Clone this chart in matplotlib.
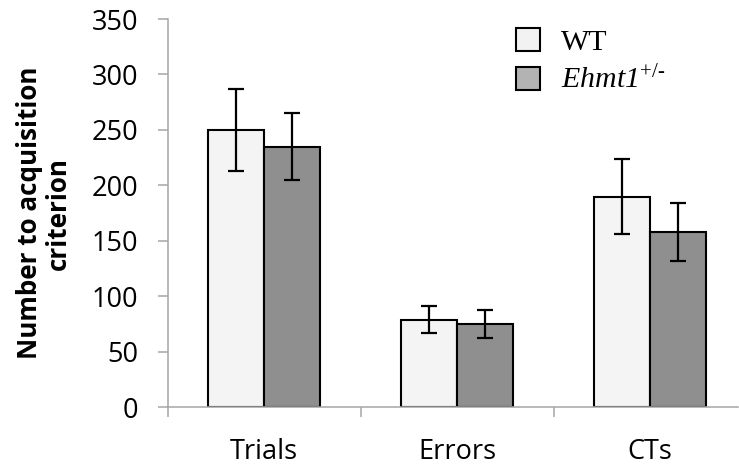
import matplotlib
matplotlib.use("Agg")
import matplotlib.pyplot as plt
from matplotlib.patches import Patch
import numpy as np

categories = ["Trials", "Errors", "CTs"]
wt_values = [250, 79, 190]
wt_errors = [37, 12, 34]
ehmt_values = [235, 75, 158]
ehmt_errors = [30, 12.5, 26]
y_ticks = [0, 50, 100, 150, 200, 250, 300, 350]

plt.rcParams['mathtext.fontset'] = 'custom'
plt.rcParams['mathtext.rm'] = 'Liberation Serif'
plt.rcParams['mathtext.it'] = 'Liberation Serif:italic'

W, H = 739, 465
fig = plt.figure(figsize=(W / 100, H / 100), dpi=100)
left_px, right_px, top_px, bot_px = 167.7, 738.0, 19.0, 407.3
ax_w = right_px - left_px
ax = fig.add_axes([left_px / W, 1 - bot_px / H, ax_w / W, (bot_px - top_px) / H])

x = np.arange(len(categories))
bw = 0.289
axis_col = '#a6a6a6'
ekw = dict(elinewidth=1.6, capthick=1.6, ecolor='black')
ax.bar(x - bw / 2, wt_values, bw, color='#f4f4f4', edgecolor='black', linewidth=1.5,
       yerr=wt_errors, capsize=6, error_kw=ekw, zorder=2)
ax.bar(x + bw / 2, ehmt_values, bw, color='#8f8f8f', edgecolor='black', linewidth=1.5,
       yerr=ehmt_errors, capsize=6, error_kw=ekw, zorder=2)

cat_px = 193.0
ax.set_xlim(-0.5, -0.5 + ax_w / cat_px)
ax.set_ylim(0, 350)
ax.set_yticks(y_ticks)
ax.set_yticklabels([str(v) for v in y_ticks], fontsize=19.5, family='Open Sans')

ax.set_xticks([-0.5, 0.5, 1.5])
ax.set_xticklabels([])
ax.set_xticks(x, minor=True)
ax.set_xticklabels(categories, minor=True, fontsize=19.5, family='Open Sans')
ax.tick_params(axis='x', which='minor', length=0, pad=22)
ax.tick_params(axis='x', which='major', length=7.5, width=1.1, color=axis_col, direction='out')
ax.tick_params(axis='y', length=7.5, width=1.1, color=axis_col, direction='out', pad=14)

for s in ['top', 'right']:
    ax.spines[s].set_visible(False)
for s in ['left', 'bottom']:
    ax.spines[s].set_color(axis_col)
    ax.spines[s].set_linewidth(1.1)

ax.set_ylabel("Number to acquisition\ncriterion", fontsize=18.7, fontweight='bold',
              family='Open Sans', linespacing=1.05, va='center')
ax.yaxis.set_label_coords((44 - left_px) / ax_w, 0.5)

handles = [Patch(facecolor='#f2f2f2', edgecolor='black', linewidth=1.5),
           Patch(facecolor='#b3b3b3', edgecolor='black', linewidth=1.5)]
labels = ["WT", r"Ehmt1$^{\text{+/-}}$"]
leg = ax.legend(handles, labels, loc='upper left', bbox_to_anchor=(516 / W, 1 - 28 / H),
                bbox_transform=fig.transFigure, frameon=False, borderpad=0, borderaxespad=0,
                handlelength=0.8, handleheight=0.8, handletextpad=0.7, labelspacing=0.35,
                prop={'family': 'Liberation Serif', 'size': 21.5})
leg.get_texts()[1].set_fontstyle('italic')

fig.savefig("out.png", dpi=100)
